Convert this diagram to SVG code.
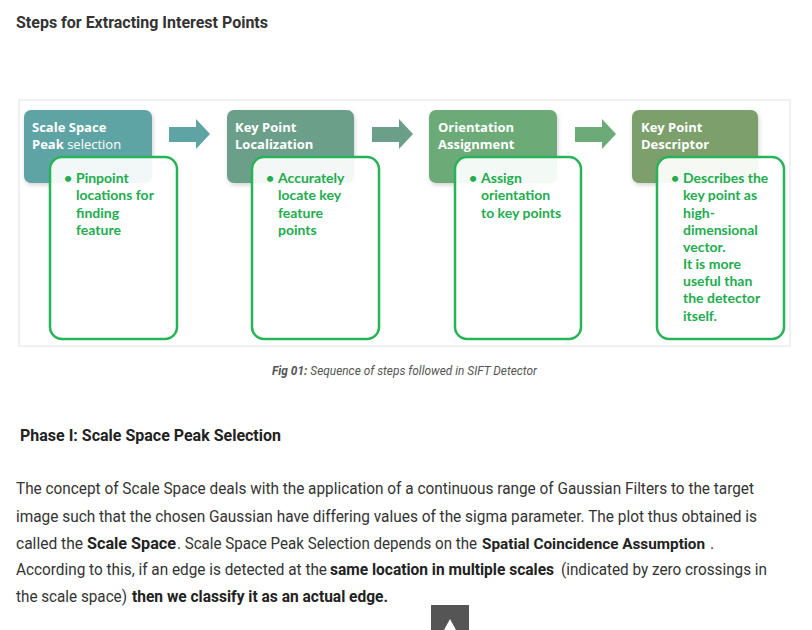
<svg xmlns="http://www.w3.org/2000/svg" width="812" height="630" viewBox="0 0 812 630">
<style>
.hd{font-family:"Open Sans","Liberation Sans",sans-serif;font-size:13px;font-weight:700;fill:#fff}
.hn{font-weight:400}
.gt{font-family:"Lato","Open Sans",sans-serif;font-size:14px;font-weight:700;fill:#22ac4e}
.gb{fill:#fff;fill-opacity:0.92;stroke:#27b457;stroke-width:2.5}
.body{font-family:"Roboto","Liberation Sans",sans-serif;font-size:16px;fill:#333}
.b{font-weight:700;fill:#222}
.cap{font-family:"Roboto","Liberation Sans",sans-serif;font-size:12px;font-style:italic;fill:#555}
</style>
<defs>
<filter id="sh" x="-10%" y="-10%" width="130%" height="140%">
<feDropShadow dx="1" dy="2" stdDeviation="2" flood-color="#000" flood-opacity="0.18"/>
</filter>
</defs>
<rect width="812" height="630" fill="#fff"/>
<text x="16" y="28" font-family="Roboto,'Liberation Sans',sans-serif" font-size="16" font-weight="700" fill="#333" textLength="252" lengthAdjust="spacingAndGlyphs">Steps for Extracting Interest Points</text>
<rect x="19" y="100" width="771" height="246" fill="#fff" stroke="#ececec" stroke-width="1.5"/>
<g id="connectors">
<path d="M169,127 H196 V119 L210,134 L196,149 V142 H169 Z" fill="#5fa4a4"/>
<path d="M372,127 H399 V119 L413,134 L399,149 V142 H372 Z" fill="#6c9f8a"/>
<path d="M575,127 H602 V119 L616,134 L602,149 V142 H575 Z" fill="#6cab78"/>
</g>
<g id="step1">
<rect x="24" y="110" width="128" height="73" rx="7" fill="#5fa4a4" filter="url(#sh)"/>
<text class="hd" x="32" y="132">Scale Space</text>
<text class="hd" x="32" y="149">Peak <tspan class="hn">selection</tspan></text>
<rect class="gb" x="50" y="157" width="127" height="182" rx="12"/>
<text class="gt"><tspan x="64" y="183">•</tspan><tspan x="76" y="183">Pinpoint</tspan><tspan x="76" y="200">locations for</tspan><tspan x="76" y="218">finding</tspan><tspan x="76" y="235">feature</tspan></text>
</g>
<g id="step2">
<rect x="227" y="110" width="127" height="73" rx="7" fill="#6c9f8a" filter="url(#sh)"/>
<text class="hd" x="235" y="132">Key Point</text>
<text class="hd" x="235" y="149">Localization</text>
<rect class="gb" x="252" y="157" width="127" height="182" rx="12"/>
<text class="gt"><tspan x="266" y="183">•</tspan><tspan x="278" y="183">Accurately</tspan><tspan x="278" y="200">locate key</tspan><tspan x="278" y="218">feature</tspan><tspan x="278" y="235">points</tspan></text>
</g>
<g id="step3">
<rect x="429" y="110" width="128" height="73" rx="7" fill="#6cab78" filter="url(#sh)"/>
<text class="hd" x="438" y="132">Orientation</text>
<text class="hd" x="438" y="149">Assignment</text>
<rect class="gb" x="455" y="157" width="126" height="182" rx="12"/>
<text class="gt"><tspan x="469" y="183">•</tspan><tspan x="481" y="183">Assign</tspan><tspan x="481" y="200">orientation</tspan><tspan x="481" y="218">to key points</tspan></text>
</g>
<g id="step4">
<rect x="632" y="110" width="126" height="73" rx="7" fill="#7b9f6c" filter="url(#sh)"/>
<text class="hd" x="641" y="132">Key Point</text>
<text class="hd" x="641" y="149">Descriptor</text>
<rect class="gb" x="657" y="157" width="127" height="182" rx="12"/>
<text class="gt"><tspan x="671" y="183">•</tspan><tspan x="683" y="183">Describes the</tspan><tspan x="683" y="200">key point as</tspan><tspan x="683" y="218">high-</tspan><tspan x="683" y="235">dimensional</tspan><tspan x="683" y="252">vector.</tspan><tspan x="683" y="269">It is more</tspan><tspan x="683" y="286">useful than</tspan><tspan x="683" y="303">the detector</tspan><tspan x="683" y="321">itself.</tspan></text>
</g>
<text class="cap" x="272" y="375" textLength="265" lengthAdjust="spacingAndGlyphs"><tspan font-weight="700">Fig 01:</tspan> Sequence of steps followed in SIFT Detector</text>
<text x="20" y="441" font-family="Roboto,'Liberation Sans',sans-serif" font-size="17" font-weight="700" fill="#222" textLength="261" lengthAdjust="spacingAndGlyphs">Phase I: Scale Space Peak Selection</text>
<text class="body" x="16" y="494" textLength="738" lengthAdjust="spacingAndGlyphs">The concept of Scale Space deals with the application of a continuous range of Gaussian Filters to the target</text>
<text class="body" x="16" y="522" textLength="741" lengthAdjust="spacingAndGlyphs">image such that the chosen Gaussian have differing values of the sigma parameter. The plot thus obtained is</text>
<text class="body" x="16" y="549" textLength="67" lengthAdjust="spacingAndGlyphs">called the</text>
<text class="body b" x="87" y="549" textLength="89" lengthAdjust="spacingAndGlyphs">Scale Space</text>
<text class="body" x="177" y="549" textLength="300" lengthAdjust="spacingAndGlyphs">. Scale Space Peak Selection depends on the</text>
<text class="body b" x="482" y="549" style="font-size:15.3px">Spatial Coincidence Assumption</text>
<text class="body" x="710" y="549">.</text>
<text class="body" x="16" y="575" textLength="311" lengthAdjust="spacingAndGlyphs">According to this, if an edge is detected at the</text>
<text class="body b" x="330" y="575" textLength="224" lengthAdjust="spacingAndGlyphs">same location in multiple scales</text>
<text class="body" x="561" y="575" textLength="206" lengthAdjust="spacingAndGlyphs">(indicated by zero crossings in</text>
<text class="body" x="16" y="602" textLength="111" lengthAdjust="spacingAndGlyphs">the scale space)</text>
<text class="body b" x="132" y="602" textLength="256" lengthAdjust="spacingAndGlyphs">then we classify it as an actual edge.</text>
<g id="top-button">
<rect x="431" y="605" width="38" height="25" fill="#555"/>
<path d="M450,619 L456,630 H444 Z" fill="#fff"/>
</g>
</svg>
